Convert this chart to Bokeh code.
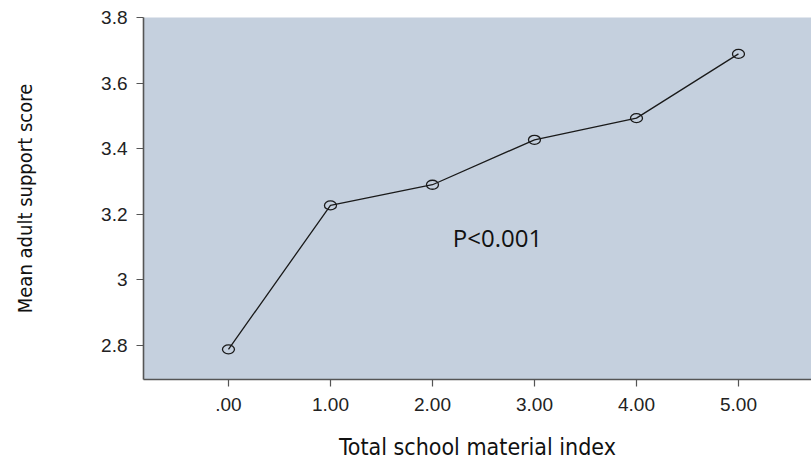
from bokeh.plotting import figure
from bokeh.models import Range1d, FixedTicker, Label, ColumnDataSource
from bokeh.embed import file_html
from bokeh.resources import INLINE

# Data
x_values = [0, 1, 2, 3, 4, 5]
mean_scores = [2.788, 3.227, 3.290, 3.427, 3.493, 3.689]
x_tick_labels = [".00", "1.00", "2.00", "3.00", "4.00", "5.00"]
y_ticks = [2.8, 3.0, 3.2, 3.4, 3.6, 3.8]
y_tick_labels = ["2.8", "3", "3.2", "3.4", "3.6", "3.8"]
x_title = "Total school material index"
y_title = "Mean adult support score"
annotation = "P<0.001"

src = ColumnDataSource(dict(x=x_values, y=mean_scores))

p = figure(width=811, height=464, output_backend="svg", toolbar_location=None,
           x_range=Range1d(-0.833, 5.716), y_range=Range1d(2.696, 3.8))
p.min_border_left = 143
p.min_border_top = 17
p.min_border_bottom = 85
p.min_border_right = 0
p.outline_line_color = None
p.background_fill_color = "#c5d0de"
p.border_fill_color = "white"
p.grid.visible = False

p.line("x", "y", source=src, line_color="#1a1a1a", line_width=1.3)
p.ellipse("x", "y", width=12, height=9, width_units="screen", height_units="screen",
          source=src, fill_color=None, line_color="#1a1a1a", line_width=1.3)

p.xaxis.ticker = FixedTicker(ticks=x_values)
p.xaxis.major_label_overrides = {x: l for x, l in zip(x_values, x_tick_labels)}
p.yaxis.ticker = FixedTicker(ticks=y_ticks)
p.yaxis.major_label_overrides = {t: l for t, l in zip(y_ticks, y_tick_labels)}

for ax in (p.xaxis, p.yaxis):
    ax.axis_line_color = "#555555"
    ax.axis_line_width = 1.6
    ax.major_tick_line_color = "#555555"
    ax.major_tick_line_width = 1.2
    ax.major_tick_out = 7
    ax.major_tick_in = 0
    ax.minor_tick_line_color = None
    ax.major_label_text_font = "Liberation Sans"
    ax.major_label_text_font_size = "19px"
    ax.major_label_text_color = "#222222"
    ax.axis_label_text_font = "DejaVu Sans Condensed"
    ax.axis_label_text_font_style = "normal"
    ax.axis_label_text_color = "#111111"

p.xaxis.axis_label_text_font_size = "23px"
p.yaxis.axis_label_text_font_size = "20px"
p.xaxis.axis_label = x_title
p.yaxis.axis_label = y_title
p.xaxis.major_label_standoff = 11
p.xaxis.axis_label_standoff = 20
p.yaxis.major_label_standoff = 9
p.yaxis.axis_label_standoff = 61

p.add_layout(Label(x=2.2, y=3.13, text=annotation, text_font="Open Sans",
                   text_font_size="24px", text_color="#111111",
                   text_baseline="alphabetic"))

open("out.html", "w").write(file_html(p, INLINE))
